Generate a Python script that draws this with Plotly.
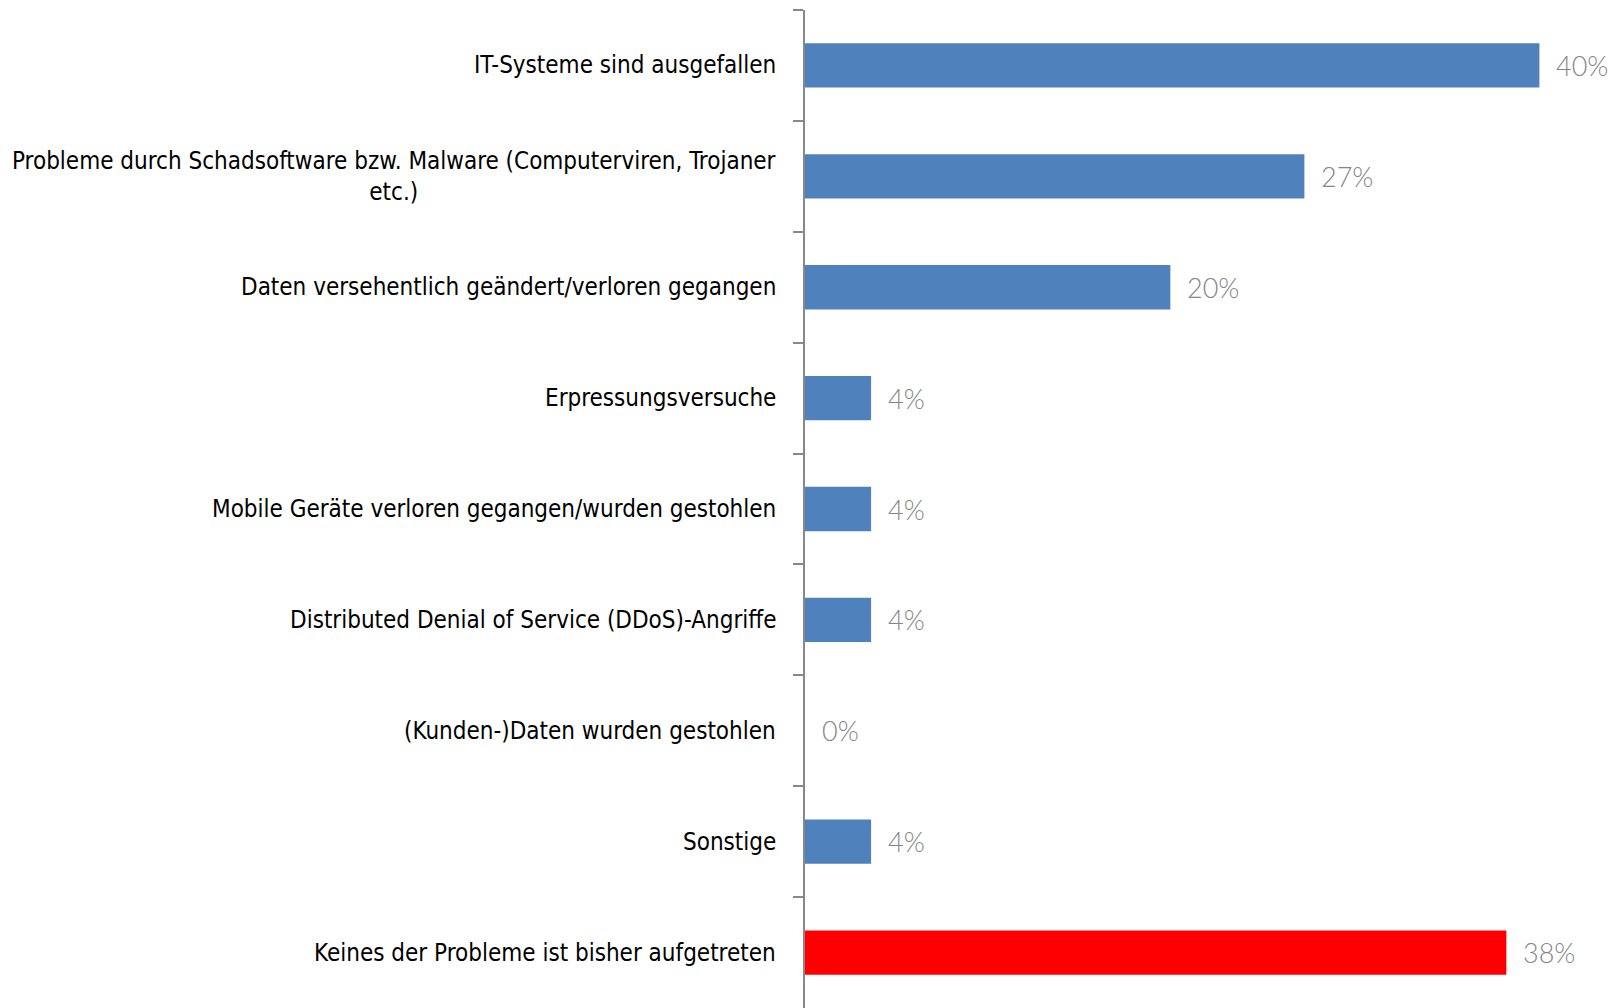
import plotly.graph_objects as go

categories = [
    "IT-Systeme sind ausgefallen",
    "Probleme durch Schadsoftware bzw. Malware (Computerviren, Trojaner<br>etc.)",
    "Daten versehentlich geändert/verloren gegangen",
    "Erpressungsversuche",
    "Mobile Geräte verloren gegangen/wurden gestohlen",
    "Distributed Denial of Service (DDoS)-Angriffe",
    "(Kunden-)Daten wurden gestohlen",
    "Sonstige",
    "Keines der Probleme ist bisher aufgetreten",
]
values = [40.0, 27.2, 19.9, 3.6, 3.6, 3.6, 0.0, 3.6, 38.2]
value_labels = ["40%", "27%", "20%", "4%", "4%", "4%", "0%", "4%", "38%"]
bar_colors = ["#4F81BD"] * 8 + ["#FF0000"]

fig = go.Figure()
fig.add_trace(go.Bar(
    x=values, y=categories, orientation="h",
    marker=dict(color=bar_colors, line=dict(width=0)),
    width=0.4, hoverinfo="skip",
))

label_font = "Liberation Sans Narrow, Arial Narrow, DejaVu Sans Condensed, sans-serif"
for cat in categories:
    fig.add_annotation(
        x=0, xref="paper", y=cat, yref="y", text=cat,
        xanchor="right", yanchor="middle", xshift=-27, align="center",
        showarrow=False, font=dict(family=label_font, size=24, color="#000000"),
    )
for cat, v, lab in zip(categories, values, value_labels):
    fig.add_annotation(
        x=v, xref="x", y=cat, yref="y", text=lab,
        xanchor="left", yanchor="middle", xshift=15,
        showarrow=False, font=dict(family="Lato", size=27, color="#868686", weight=300),
    )

fig.update_layout(
    width=1611, height=1008,
    margin=dict(l=805, r=0, t=10, b=0),
    paper_bgcolor="white", plot_bgcolor="white",
    showlegend=False,
    xaxis=dict(range=[0, 43.9], visible=False, showgrid=False, zeroline=False),
    yaxis=dict(
        categoryorder="array", categoryarray=categories, autorange="reversed",
        showticklabels=False, showgrid=False, zeroline=False,
        showline=True, linecolor="#888888", linewidth=2,
        ticks="outside", tickson="boundaries", ticklen=10, tickcolor="#888888", tickwidth=2,
    ),
)

fig.write_html(
    "out.html",
    config={"displayModeBar": False},
    post_script="document.body.style.margin='0';document.body.style.overflow='hidden';",
)
